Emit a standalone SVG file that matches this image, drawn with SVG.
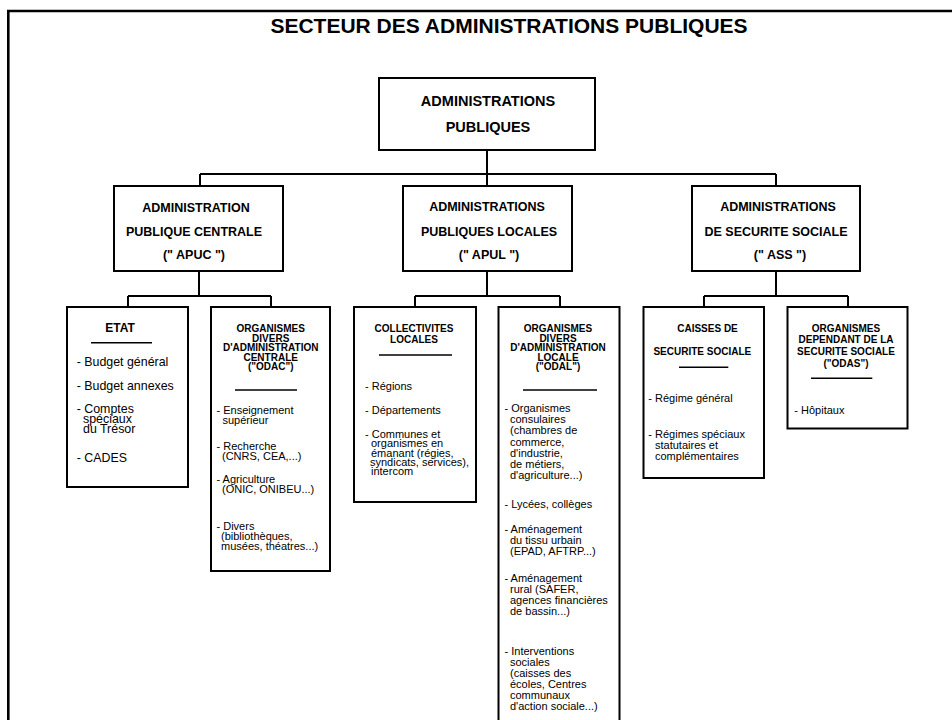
<svg xmlns="http://www.w3.org/2000/svg" width="952" height="720" viewBox="0 0 952 720">
<style>
text{font-family:"Liberation Sans",Arial,sans-serif;fill:#000}
.t0{font-size:21px;font-weight:bold;text-anchor:middle}
.t1{font-size:14.5px;font-weight:bold;text-anchor:middle}
.t2{font-size:12.5px;font-weight:bold;text-anchor:middle}
.t3{font-size:10px;font-weight:bold;text-anchor:middle}
.te{font-size:12px;font-weight:bold;text-anchor:middle}
.it{font-size:11px}
.ie{font-size:12.4px}
.box{fill:#fff;stroke:#000;stroke-width:2}
.ul{stroke:#000;stroke-width:1.6}
.con{fill:none;stroke:#000;stroke-width:2}
</style>
<rect x="0" y="0" width="952" height="720" fill="#fff"/>
<path d="M8.3 720 V11 H952" fill="none" stroke="#000" stroke-width="2.6"/>
<text class="t0" x="509" y="33">SECTEUR DES ADMINISTRATIONS PUBLIQUES</text>
<g id="connectors" class="con">
<path d="M487 150 V186 M200 174 H776 M200 174 V186 M776 174 V186"/>
<path d="M199 271 V296 M128 296 H271 M128 296 V307 M271 296 V307"/>
<path d="M487 271 V296 M415 296 H560 M415 296 V307 M560 296 V307"/>
<path d="M776 271 V296 M704 296 H848 M704 296 V307 M848 296 V307"/>
</g>
<g id="ap">
<rect class="box" x="379" y="78" width="216" height="72"/>
<text class="t1" x="488" y="106">ADMINISTRATIONS</text>
<text class="t1" x="488" y="132">PUBLIQUES</text>
</g>
<g id="apuc">
<rect class="box" x="114" y="186" width="169" height="85"/>
<text class="t2" x="196" y="211.5">ADMINISTRATION</text>
<text class="t2" x="194" y="236">PUBLIQUE CENTRALE</text>
<text class="t2" x="194" y="258.5">(" APUC ")</text>
</g>
<g id="apul">
<rect class="box" x="403" y="186" width="169" height="85"/>
<text class="t2" x="487" y="210.5">ADMINISTRATIONS</text>
<text class="t2" x="489" y="235.5">PUBLIQUES LOCALES</text>
<text class="t2" x="489" y="258.5">(" APUL ")</text>
</g>
<g id="ass">
<rect class="box" x="692" y="186" width="168" height="85"/>
<text class="t2" x="778" y="210.5">ADMINISTRATIONS</text>
<text class="t2" x="776" y="235.5">DE SECURITE SOCIALE</text>
<text class="t2" x="780" y="258.5">(" ASS ")</text>
</g>
<g id="etat">
<rect class="box" x="67" y="307" width="121" height="180"/>
<text class="te" x="120" y="331.7">ETAT</text>
<line class="ul" x1="91" y1="342.7" x2="152" y2="342.7"/>
<text class="ie" x="76.7" y="365.7">- Budget général</text>
<text class="ie" x="76.7" y="390">- Budget annexes</text>
<text class="ie" x="76.7" y="413">- Comptes</text>
<text class="ie" x="83" y="423">spéciaux</text>
<text class="ie" x="83" y="433">du Trésor</text>
<text class="ie" x="76.7" y="461.7">- CADES</text>
</g>
<g id="odac">
<rect class="box" x="211" y="307" width="119" height="264"/>
<text class="t3" x="270.7" y="332">ORGANISMES</text>
<text class="t3" x="270.7" y="341.6">DIVERS</text>
<text class="t3" x="270.7" y="351.2">D'ADMINISTRATION</text>
<text class="t3" x="270.7" y="360.8">CENTRALE</text>
<text class="t3" x="270.7" y="370.4">("ODAC")</text>
<line class="ul" x1="235" y1="390" x2="297" y2="390"/>
<text class="it" x="216.5" y="414">- Enseignement</text>
<text class="it" x="222.5" y="423.6">supérieur</text>
<text class="it" x="216.5" y="450.4">- Recherche</text>
<text class="it" x="222" y="460">(CNRS, CEA,...)</text>
<text class="it" x="216.5" y="483">- Agriculture</text>
<text class="it" x="222" y="492.6">(ONIC, ONIBEU...)</text>
<text class="it" x="216.5" y="530">- Divers</text>
<text class="it" x="221" y="540">(bibliothèques,</text>
<text class="it" x="221" y="550">musées, théatres...)</text>
</g>
<g id="coll">
<rect class="box" x="354" y="307" width="122" height="195"/>
<text class="t3" x="414" y="331.7">COLLECTIVITES</text>
<text class="t3" x="414" y="342.7">LOCALES</text>
<line class="ul" x1="379" y1="355" x2="452" y2="355"/>
<text class="it" x="365" y="390">- Régions</text>
<text class="it" x="365" y="414">- Départements</text>
<text class="it" x="365" y="438">- Communes et</text>
<text class="it" x="371" y="447.3">organismes en</text>
<text class="it" x="371" y="456.6">émanant (régies,</text>
<text class="it" x="370" y="465.9">syndicats, services),</text>
<text class="it" x="371" y="475.2">intercom</text>
</g>
<g id="odal">
<rect class="box" x="498.5" y="307" width="121" height="430"/>
<text class="t3" x="558" y="332">ORGANISMES</text>
<text class="t3" x="558" y="341.6">DIVERS</text>
<text class="t3" x="558" y="351.2">D'ADMINISTRATION</text>
<text class="t3" x="558" y="360.8">LOCALE</text>
<text class="t3" x="558" y="370.4">("ODAL")</text>
<line class="ul" x1="523" y1="390" x2="597" y2="390"/>
<text class="it" x="504.5" y="412">- Organismes</text>
<text class="it" x="510" y="423.2">consulaires</text>
<text class="it" x="510" y="434.4">(chambres de</text>
<text class="it" x="510" y="445.6">commerce,</text>
<text class="it" x="510" y="456.8">d'industrie,</text>
<text class="it" x="510" y="468">de métiers,</text>
<text class="it" x="510" y="479.2">d'agriculture...)</text>
<text class="it" x="504.5" y="508.3">- Lycées, collèges</text>
<text class="it" x="504.5" y="533.3">- Aménagement</text>
<text class="it" x="510" y="544.3">du tissu urbain</text>
<text class="it" x="510" y="555.3">(EPAD, AFTRP...)</text>
<text class="it" x="504.5" y="582.3">- Aménagement</text>
<text class="it" x="510" y="593.2">rural (SAFER,</text>
<text class="it" x="510" y="604.1">agences financières</text>
<text class="it" x="510" y="615">de bassin...)</text>
<text class="it" x="504.5" y="655">- Interventions</text>
<text class="it" x="510" y="665.9">sociales</text>
<text class="it" x="510" y="676.8">(caisses des</text>
<text class="it" x="510" y="687.7">écoles, Centres</text>
<text class="it" x="510" y="698.6">communaux</text>
<text class="it" x="510" y="709.5">d'action sociale...)</text>
</g>
<g id="caisses">
<rect class="box" x="643.5" y="307" width="120.5" height="171"/>
<text class="t3" x="707.5" y="331.7">CAISSES DE</text>
<text class="t3" x="702.3" y="355">SECURITE SOCIALE</text>
<line class="ul" x1="679" y1="367.3" x2="728.3" y2="367.3"/>
<text class="it" x="648.3" y="401.7">- Régime général</text>
<text class="it" x="648.3" y="438.3">- Régimes spéciaux</text>
<text class="it" x="655" y="449.2">statutaires et</text>
<text class="it" x="655" y="460.1">complémentaires</text>
</g>
<g id="odas">
<rect class="box" x="787.5" y="307" width="120" height="121.5"/>
<text class="t3" x="846" y="331.7">ORGANISMES</text>
<text class="t3" x="846" y="343.3">DEPENDANT DE LA</text>
<text class="t3" x="846" y="355">SECURITE SOCIALE</text>
<text class="t3" x="846" y="366.7">("ODAS")</text>
<line class="ul" x1="811" y1="378.3" x2="872.3" y2="378.3"/>
<text class="it" x="794.3" y="414">- Hôpitaux</text>
</g>
</svg>
